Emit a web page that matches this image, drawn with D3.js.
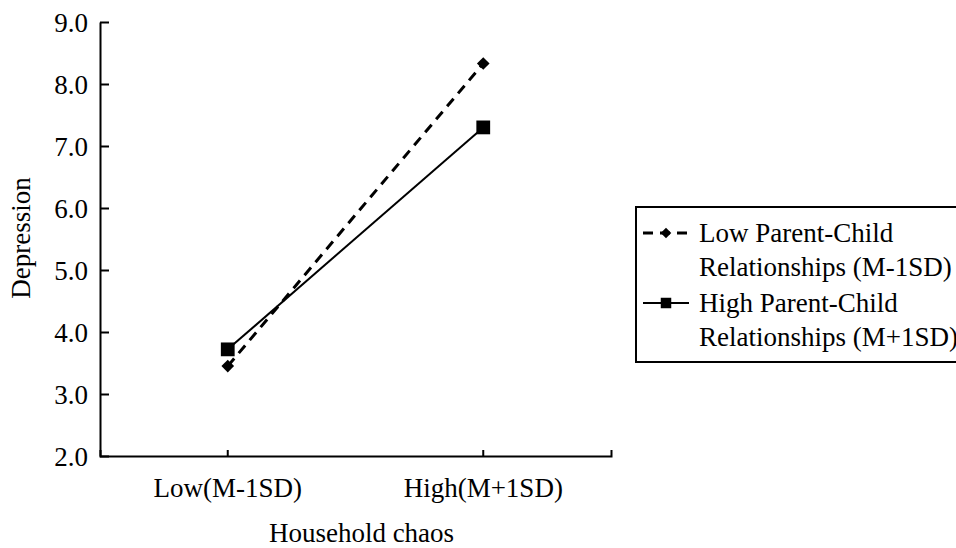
<!DOCTYPE html>
<html><head><meta charset="utf-8">
<script src="https://cdn.jsdelivr.net/npm/d3@7/dist/d3.min.js"></script>
<style>body{margin:0;background:#fff}svg{display:block}</style>
</head><body><svg id="c" width="956" height="548"></svg>
<script>
const categories = ["Low(M-1SD)", "High(M+1SD)"];
const seriesNames = ["Low Parent-Child|Relationships (M-1SD)", "High Parent-Child|Relationships (M+1SD)"];
const lowPCR = [3.45, 8.33];
const highPCR = [3.72, 7.30];
const yTicks = [2, 3, 4, 5, 6, 7, 8, 9];
const xTitle = "Household chaos";
const yTitle = "Depression";

const FONT = "Liberation Serif";
const FS = 27;
const svg = d3.select("#c");
const L = 100, R = 611, T = 22, B = 456;
const x = d3.scaleBand().domain(categories).range([L, R]);
const y = d3.scaleLinear().domain([2, 9]).range([B, T]);

// y axis
const ya = svg.append("g").attr("transform", `translate(${L},0)`)
  .call(d3.axisLeft(y).tickValues(yTicks).tickFormat(d3.format(".1f")).tickSizeInner(-9).tickSizeOuter(0).tickPadding(12));
ya.attr("font-family", FONT).attr("font-size", FS);
ya.select(".domain").attr("stroke", "#000").attr("stroke-width", 2);
ya.selectAll(".tick line").attr("stroke", "#000").attr("stroke-width", 2);
ya.selectAll("text").attr("dy", "0.35em").attr("fill", "#000");

// x axis
const xa = svg.append("g").attr("transform", `translate(0,${B})`)
  .call(d3.axisBottom(x).tickSizeInner(-6).tickSizeOuter(-6).tickPadding(22));
xa.attr("font-family", FONT).attr("font-size", FS);
xa.select(".domain").attr("stroke", "#000").attr("stroke-width", 2);
xa.selectAll(".tick line").attr("stroke", "#000").attr("stroke-width", 2);
xa.selectAll("text").attr("dy", "0.71em").attr("fill", "#000");

// titles
svg.append("text").attr("x", (L + R) / 2 + 6).attr("y", 542).attr("text-anchor", "middle")
  .attr("font-family", FONT).attr("font-size", FS).text(xTitle);
svg.append("text").attr("transform", `translate(30,${238}) rotate(-90)`).attr("text-anchor", "middle")
  .attr("font-family", FONT).attr("font-size", FS).text(yTitle);

const cx = c => x(c) + x.bandwidth() / 2;
const line = d3.line().x((d, i) => cx(categories[i])).y(d => y(d));

svg.append("path").datum(lowPCR).attr("d", line).attr("fill", "none").attr("stroke", "#000")
  .attr("stroke-width", 3).attr("stroke-dasharray", "10,7");
svg.append("path").datum(highPCR).attr("d", line).attr("fill", "none").attr("stroke", "#000")
  .attr("stroke-width", 2);

svg.selectAll(".dm").data(lowPCR).enter().append("path")
  .attr("d", d3.symbol().type(d3.symbolSquare).size(80))
  .attr("transform", (d, i) => `translate(${cx(categories[i])},${y(d)}) rotate(45)`)
  .attr("fill", "#000");
svg.selectAll(".sq").data(highPCR).enter().append("path")
  .attr("d", d3.symbol().type(d3.symbolSquare).size(190))
  .attr("transform", (d, i) => `translate(${cx(categories[i])},${y(d)})`)
  .attr("fill", "#000");

// legend
const lg = svg.append("g");
lg.append("rect").attr("x", 636).attr("y", 207).attr("width", 340).attr("height", 155)
  .attr("fill", "#fff").attr("stroke", "#000").attr("stroke-width", 2);
const rows = [233, 303];
seriesNames.forEach((s, i) => {
  const yy = rows[i];
  lg.append("line").attr("x1", 643).attr("x2", 689).attr("y1", yy).attr("y2", yy)
    .attr("stroke", "#000").attr("stroke-width", i === 0 ? 3 : 2)
    .attr("stroke-dasharray", i === 0 ? "10,7" : null);
  if (i === 0) {
    lg.append("path").attr("d", d3.symbol().type(d3.symbolSquare).size(55))
      .attr("transform", `translate(666,${yy}) rotate(45)`).attr("fill", "#000");
  } else {
    lg.append("path").attr("d", d3.symbol().type(d3.symbolSquare).size(110))
      .attr("transform", `translate(666,${yy})`).attr("fill", "#000");
  }
  s.split("|").forEach((p, j) => {
    lg.append("text").attr("x", 699).attr("y", yy + 9 + j * 34)
      .attr("font-family", FONT).attr("font-size", FS).attr("fill", "#000").text(p);
  });
});
</script></body></html>
